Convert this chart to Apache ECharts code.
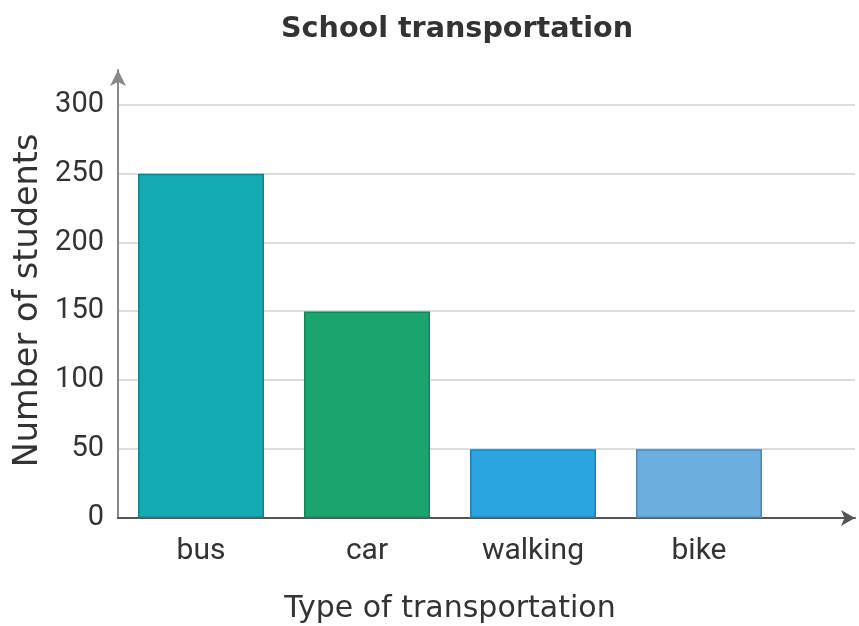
<html>
<head>
    <script src="https://cdnjs.cloudflare.com/ajax/libs/echarts/6.0.0/echarts.min.js"></script>
    <style>
        body { margin: 0; background: #fff; }
        #graph { width: 859px; height: 626px; }
    </style>
</head>
<body>
    <div id="graph"></div>
    <script>
        // data
        var categories = ['bus', 'car', 'walking', 'bike'];
        var students = [250, 150, 50, 50];
        var barColors = ['#13aab4', '#1aa46e', '#2ba5df', '#6aafde'];
        var barBorders = ['#16808a', '#17845a', '#2180b8', '#4a88b8'];
        var yTicks = [0, 50, 100, 150, 200, 250, 300];

        var textColor = '#333';
        var font = 'Roboto';
        var nameFont = 'DejaVu Sans';

        var chart = echarts.init(document.getElementById('graph'));

        var option = {
            backgroundColor: '#fff',
            animation: false,
            title: {
                text: 'School transportation',
                left: 276,
                top: -6,
                textStyle: {
                    fontFamily: 'DejaVu Sans',
                    fontWeight: 'bold',
                    fontSize: 28.6,
                    color: textColor
                }
            },
            grid: [
                // bars
                { left: 118, top: 105, bottom: 108, width: 664, outerBoundsMode: 'none' },
                // frame: gridlines + arrowed axes
                { left: 118, top: 70, bottom: 108, right: 4, outerBoundsMode: 'none' }
            ],
            xAxis: [
                {
                    type: 'category',
                    gridIndex: 0,
                    data: categories,
                    axisLine: { show: false },
                    axisTick: { show: false },
                    axisLabel: { margin: 9, fontSize: 30, color: textColor, fontFamily: font },
                    name: 'Type of transportation',
                    nameLocation: 'middle',
                    nameGap: 61,
                    nameMoveOverlap: false,
                    nameTextStyle: { fontSize: 30, color: textColor, fontFamily: nameFont }
                },
                {
                    type: 'value',
                    gridIndex: 1,
                    min: 0,
                    max: 1,
                    axisLine: {
                        show: true,
                        symbol: ['none', 'arrow'],
                        symbolSize: [12, 14],
                        lineStyle: { color: '#555', width: 2 }
                    },
                    axisTick: { show: false },
                    axisLabel: { show: false },
                    splitLine: { show: false }
                }
            ],
            yAxis: [
                {
                    type: 'value',
                    gridIndex: 0,
                    min: 0,
                    max: 300,
                    interval: 50,
                    axisLine: { show: false },
                    axisTick: { show: false },
                    axisLabel: { show: false },
                    splitLine: { show: false },
                    name: 'Number of students',
                    nameLocation: 'middle',
                    nameGap: 57,
                    nameMoveOverlap: false,
                    nameTextStyle: {
                        fontSize: 33.5,
                        color: textColor,
                        fontFamily: nameFont,
                        padding: [0, 0, 0, 22]
                    }
                },
                {
                    type: 'value',
                    gridIndex: 1,
                    min: 0,
                    max: 325,
                    interval: 50,
                    axisLine: {
                        show: true,
                        symbol: ['none', 'arrow'],
                        symbolSize: [12, 16],
                        lineStyle: { color: '#888', width: 2 }
                    },
                    axisTick: { show: false },
                    axisLabel: {
                        margin: 14,
                        fontSize: 29,
                        color: textColor,
                        fontFamily: font,
                        showMaxLabel: false,
                        formatter: function (v) {
                            return yTicks.indexOf(v) >= 0 ? String(v) : '';
                        }
                    },
                    splitLine: {
                        show: true,
                        showMaxLine: false,
                        lineStyle: { color: '#d0d0d0', width: 1.5 }
                    }
                }
            ],
            series: [{
                type: 'bar',
                xAxisIndex: 0,
                yAxisIndex: 0,
                barWidth: 126,
                z: 5,
                data: students.map(function (v, i) {
                    return {
                        value: v,
                        itemStyle: {
                            color: barColors[i],
                            borderColor: barBorders[i],
                            borderWidth: 1.5
                        }
                    };
                })
            }]
        };

        chart.setOption(option);
    </script>
</body>
</html>
